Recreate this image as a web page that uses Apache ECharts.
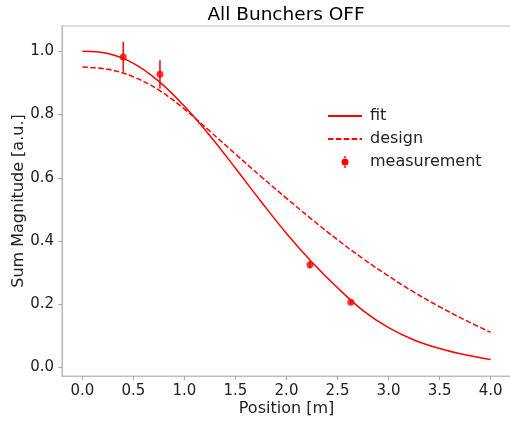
<!DOCTYPE html>
<html>
<head>
<meta charset="utf-8">
<script src="https://cdn.jsdelivr.net/npm/echarts@6/dist/echarts.min.js"></script>
<style>
  html, body { margin: 0; padding: 0; background: #fff; }
  #myChart { width: 510px; height: 422px; }
</style>
</head>
<body>
<div id="myChart"></div>
<script>
/*----------chart data--------*/
var posGrid = [0, 0.25, 0.5, 0.75, 1.0, 1.25, 1.5, 1.75, 2.0, 2.25, 2.5, 2.75, 3.0, 3.25, 3.5, 3.75, 4.0];
var fitValues = [1.0, 0.993, 0.962, 0.905, 0.826, 0.733, 0.630, 0.525, 0.424, 0.333, 0.252, 0.180, 0.126, 0.087, 0.060, 0.040, 0.025];
var designValues = [0.950, 0.943, 0.919, 0.877, 0.817, 0.747, 0.675, 0.604, 0.535, 0.468, 0.404, 0.344, 0.289, 0.238, 0.192, 0.150, 0.111];
var measPos = [0.40, 0.76, 2.23, 2.63];
var measValues = [0.982, 0.927, 0.325, 0.206];
var measErrors = [0.047, 0.045, 0.012, 0.005];
var xTicks = [0, 0.5, 1.0, 1.5, 2.0, 2.5, 3.0, 3.5, 4.0];
var yTicks = [0, 0.2, 0.4, 0.6, 0.8, 1.0];

function pairs(xs, ys) {
    var out = [];
    for (var i = 0; i < xs.length; i++) {
        out.push([xs[i], ys[i]]);
    }
    return out;
}

var errData = [];
for (var i = 0; i < measPos.length; i++) {
    errData.push([measPos[i], measValues[i] - measErrors[i], measValues[i] + measErrors[i]]);
}

var myChart = echarts.init(document.getElementById('myChart'));
var axisColor = '#bdbdbd';
var font = 'DejaVu Sans';

myChart.setOption({
    animation: false,
    textStyle: { fontFamily: font },
    title: {
        text: 'All Bunchers OFF',
        left: 281,
        textAlign: 'center',
        top: 1,
        textStyle: { fontFamily: font, fontSize: 18.5, fontWeight: 'normal', color: '#000' }
    },
    legend: {
        orient: 'vertical',
        left: 322,
        top: 103,
        itemWidth: 34,
        itemHeight: 12,
        itemGap: 7,
        textStyle: { fontFamily: font, fontSize: 16, color: '#222', padding: [0, 0, 0, 3] },
        data: [
            { name: 'fit', itemStyle: { opacity: 0 } },
            { name: 'design', itemStyle: { opacity: 0 } },
            /*dot with error bar, padded out so it sits in the middle of the icon box*/
            { name: 'measurement', icon: 'path://M-13.5,6L-13.5,6Z M20.5,6L20.5,6Z M2.8,0H4.2V3H2.8Z M2.8,9H4.2V12H2.8Z M0,6A3.5,3.5,0,1,0,7,6A3.5,3.5,0,1,0,0,6Z' }
        ]
    },
    grid: {
        left: 62,
        top: 26,
        width: 449,
        height: 350,
        outerBoundsMode: 'none',
        containLabel: false,
        show: true,
        borderColor: axisColor,
        borderWidth: 1.2
    },
    xAxis: {
        type: 'value',
        min: -0.2,
        max: 4.2,
        name: 'Position [m]',
        nameLocation: 'middle',
        nameGap: 25,
        nameMoveOverlap: false,
        nameTextStyle: { fontFamily: font, fontSize: 16, color: '#222' },
        splitLine: { show: false },
        axisLine: { show: true, onZero: false, lineStyle: { color: axisColor, width: 1.2 } },
        axisTick: { show: true, customValues: xTicks, length: 4, lineStyle: { color: '#a8a8a8' } },
        axisLabel: {
            customValues: xTicks,
            margin: 8,
            fontSize: 15,
            color: '#222',
            formatter: function (v) { return v.toFixed(1); }
        }
    },
    yAxis: {
        type: 'value',
        min: -0.027,
        max: 1.080,
        name: 'Sum Magnitude [a.u.]',
        nameLocation: 'middle',
        nameRotate: 90,
        nameGap: 35,
        nameMoveOverlap: false,
        nameTextStyle: { fontFamily: font, fontSize: 16, color: '#222' },
        splitLine: { show: false },
        axisLine: { show: true, onZero: false, lineStyle: { color: axisColor, width: 1.2 } },
        axisTick: { show: true, customValues: yTicks, length: 4, lineStyle: { color: '#a8a8a8' } },
        axisLabel: {
            customValues: yTicks,
            margin: 8,
            fontSize: 15,
            color: '#222',
            formatter: function (v) { return v.toFixed(1); }
        }
    },
    series: [
        {
            name: 'fit',
            type: 'line',
            data: pairs(posGrid, fitValues),
            symbol: 'none',
            smooth: 0.4,
            color: '#ff0000',
            lineStyle: { color: '#ff0000', width: 1.5 }
        },
        {
            name: 'design',
            type: 'line',
            data: pairs(posGrid, designValues),
            symbol: 'none',
            smooth: 0.4,
            color: '#ff0000',
            lineStyle: { color: '#ff0000', width: 1.5, type: [5.5, 2.4] }
        },
        {
            /*error bars drawn through the axis scales*/
            name: 'measurement',
            type: 'custom',
            data: errData,
            color: '#ff0000',
            renderItem: function (params, api) {
                var lo = api.coord([api.value(0), api.value(1)]);
                var hi = api.coord([api.value(0), api.value(2)]);
                return {
                    type: 'line',
                    shape: { x1: lo[0], y1: lo[1], x2: hi[0], y2: hi[1] },
                    style: { stroke: '#ff0000', lineWidth: 1.5 }
                };
            },
            z: 3
        },
        {
            name: 'measurement',
            type: 'scatter',
            data: pairs(measPos, measValues),
            symbol: 'circle',
            symbolSize: 7,
            color: '#ff0000',
            itemStyle: { color: '#ff0000' },
            z: 4
        }
    ]
});
</script>
</body>
</html>
